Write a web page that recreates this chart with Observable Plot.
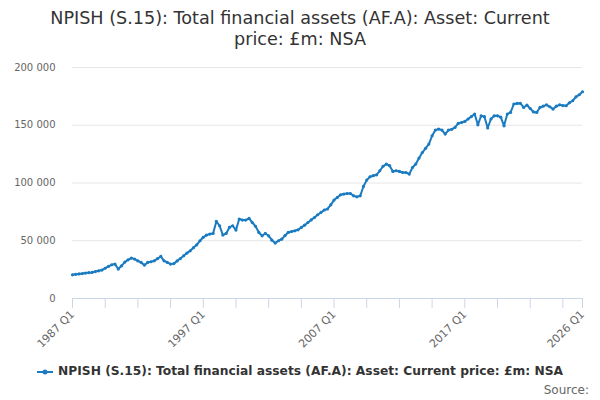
<!DOCTYPE html>
<html>
<head>
<meta charset="utf-8">
<script src="https://cdn.jsdelivr.net/npm/d3@7"></script>
<script src="https://cdn.jsdelivr.net/npm/@observablehq/plot@0.6"></script>
<style>
  html, body { margin: 0; padding: 0; background: #fff; width: 600px; height: 400px; overflow: hidden; font-family: "DejaVu Sans", sans-serif; }
  #title { text-align: center; font-size: 17.6px; color: #333; line-height: 21px; padding-top: 8px; height: 47px; }
  #chart svg { display: block; }
  #legend { position: absolute; top: 364px; left: 0; width: 600px; text-align: center; font-size: 12.25px; font-weight: bold; color: #333; }
  #legend .sym { display: inline-block; vertical-align: middle; margin-right: 5px; }
  #source { position: absolute; top: 383px; right: 11px; font-size: 12px; color: #666; }
</style>
</head>
<body>
<div id="title">NPISH (S.15): Total financial assets (AF.A): Asset: Current<br>price: £m: NSA</div>
<div id="chart"></div>
<div id="legend"><svg class="sym" width="16" height="10"><line x1="0" y1="5" x2="16" y2="5" stroke="#1a7bc1" stroke-width="2"/><circle cx="8" cy="5" r="2.5" fill="#1a7bc1"/></svg><span id="legendText"></span></div>
<div id="source">Source:</div>
<script>
const seriesName = "NPISH (S.15): Total financial assets (AF.A): Asset: Current price: £m: NSA";
const startYear = 1987;
// Quarterly values, £m, 1987 Q1 .. 2026 Q1
const values = [
  20500, 20900, 21300, 21600, 22000, 22400, 22600, 23300, 24000, 24600,
  26200, 27800, 29200, 29800, 25500, 28300, 31500, 33500, 35000, 34100,
  32500, 31200, 28900, 31200, 31800, 32600, 34500, 36400, 32600, 31200,
  29800, 30200, 32500, 34600, 37000, 39300, 41300, 44000, 46500, 50000,
  53000, 54900, 55800, 56300, 66700, 63000, 54900, 56300, 61500, 63000,
  59200, 68800, 67900, 67900, 69300, 65800, 62500, 57200, 54300, 56300,
  54300, 50500, 48000, 50000, 51400, 54500, 57200, 58000, 58600, 59500,
  61500, 63500, 65800, 68000, 70100, 72500, 74500, 76600, 77500, 81100,
  85200, 87500, 89800, 90400, 90900, 90900, 88900, 88000, 88900, 97000,
  102500, 105400, 106300, 107100, 110600, 114500, 116400, 115000, 110000, 110600,
  110000, 109100, 109100, 107700, 113400, 116400, 121600, 126400, 130000, 133700,
  140900, 145800, 146700, 145800, 142400, 145800, 146500, 148100, 151600, 152400,
  153300, 155400, 157500, 159700, 150400, 158200, 157400, 147600, 155400, 158200,
  158200, 157000, 149500, 159700, 161100, 168400, 168900, 169000, 165400, 167500,
  164500, 161500, 161100, 165400, 166500, 167700, 166000, 164000, 166500, 167700,
  167000, 166900, 169500, 171200, 174500, 176400, 179000
];
const quarters = values.map((_, i) => `${startYear + Math.floor(i / 4)} Q${(i % 4) + 1}`);
const xTickLabels = ["1987 Q1", "1997 Q1", "2007 Q1", "2017 Q1", "2026 Q1"];
const yTicks = [0, 50000, 100000, 150000, 200000];

const data = quarters.map((q, i) => ({quarter: q, value: values[i]}));
const xTicks = quarters.filter((q, i) => i % 10 === 0).concat([quarters[quarters.length - 1]]);
const fmt = v => d3.format(",")(v).replace(/,/g, " ");
const blue = "#1a7bc1";

document.getElementById("legendText").textContent = seriesName;

const chart = Plot.plot({
  width: 600,
  height: 300,
  marginLeft: 72,
  marginRight: 18,
  marginTop: 12,
  marginBottom: 57,
  style: {fontFamily: "DejaVu Sans, sans-serif", fontSize: "10px", color: "#666", background: "#fff"},
  x: {type: "point", domain: quarters, padding: 0, label: null},
  y: {domain: [0, 200000], label: null},
  marks: [
    Plot.gridY(yTicks, {stroke: "#e6e6e6", strokeOpacity: 1}),
    Plot.axisY(yTicks, {tickSize: 0, tickPadding: 17, tickFormat: fmt, fill: "#666", fontSize: 10, label: null}),
    Plot.ruleY([0], {stroke: "#ccd6eb"}),
    Plot.axisX(xTicks, {
      tickSize: 10, stroke: "#ccd6eb", strokeOpacity: 1,
      tickFormat: d => xTickLabels.includes(d) ? d : "",
      tickRotate: -45, textAnchor: "end", tickPadding: 4, fill: "#666", fontSize: 11,
      label: null
    }),
    Plot.line(data, {x: "quarter", y: "value", stroke: blue, strokeWidth: 2}),
    Plot.dot(data, {x: "quarter", y: "value", fill: blue, r: 1.6})
  ]
});
document.getElementById("chart").appendChild(chart);
</script>
</body>
</html>
